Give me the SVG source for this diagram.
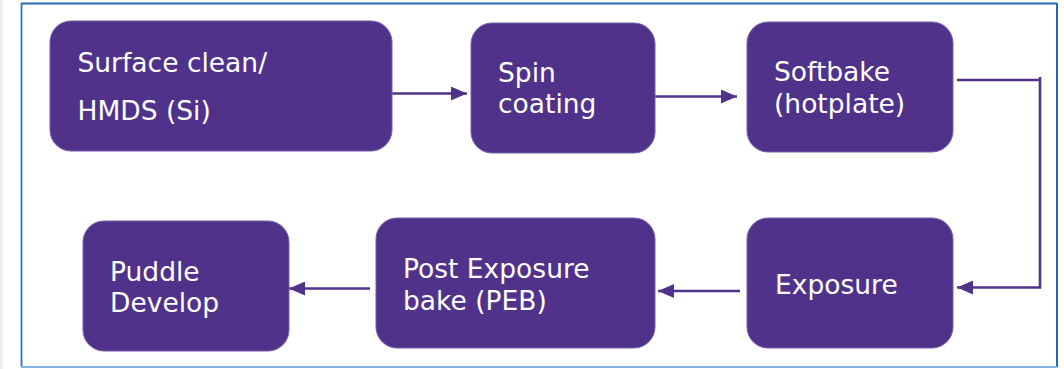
<svg xmlns="http://www.w3.org/2000/svg" width="1064" height="369" viewBox="0 0 1064 369">
  <defs>
    <marker id="arrow" markerWidth="16" markerHeight="14" refX="16" refY="7" orient="auto" markerUnits="userSpaceOnUse">
      <path d="M0,0 L16,7 L0,14 Z" fill="#51328b"/>
    </marker>
    <style>
      .node rect { fill: #51328b; stroke: #7561a8; stroke-width: 1; }
      .node text { fill: #ffffff; font-family: "DejaVu Sans", Verdana, sans-serif; font-size: 26.5px; }
      .conn { fill: none; stroke: #51328b; stroke-width: 2.6; }
    </style>
  </defs>

  <rect x="0" y="0" width="1064" height="369" fill="#ffffff"/>
  <rect x="0" y="0" width="3" height="369" fill="#efefef"/>

  <!-- frame -->
  <g id="frame" fill="none">
    <line x1="21" y1="3.5" x2="1057" y2="3.5" stroke="#1f6bb5" stroke-width="2"/>
    <line x1="21.5" y1="3" x2="21.5" y2="367" stroke="#2a74bd" stroke-width="1.8"/>
    <line x1="1057" y1="3" x2="1057" y2="367" stroke="#1f6bb5" stroke-width="2"/>
    <line x1="21" y1="367" x2="1057" y2="367" stroke="#7fb3e3" stroke-width="2"/>
  </g>

  <!-- connectors -->
  <g id="connectors" class="conn">
    <path d="M392,93.5 L467,93.5" marker-end="url(#arrow)"/>
    <path d="M655,96.5 L737,96.5" marker-end="url(#arrow)"/>
    <path d="M957,80 L1040,80 M1040,77 L1040,287.5 L957,287.5" marker-end="url(#arrow)"/>
    <path d="M740,291 L658,291" marker-end="url(#arrow)"/>
    <path d="M370,288.5 L289,288.5" marker-end="url(#arrow)"/>
  </g>

  <g id="surface-clean" class="node">
    <rect x="50" y="21" width="342" height="130" rx="21"/>
    <text x="77.5" y="72">Surface clean/</text>
    <text x="77.5" y="120">HMDS (Si)</text>
  </g>

  <g id="spin-coating" class="node">
    <rect x="471" y="23" width="184" height="130" rx="21"/>
    <text x="498" y="82">Spin</text>
    <text x="498" y="113">coating</text>
  </g>

  <g id="softbake" class="node">
    <rect x="747" y="22" width="206" height="130" rx="21"/>
    <text x="774" y="81">Softbake</text>
    <text x="774" y="113">(hotplate)</text>
  </g>

  <g id="exposure" class="node">
    <rect x="747" y="218" width="206" height="130" rx="21"/>
    <text x="775" y="294">Exposure</text>
  </g>

  <g id="peb" class="node">
    <rect x="376" y="218" width="279" height="130" rx="21"/>
    <text x="403" y="278">Post Exposure</text>
    <text x="403" y="310">bake (PEB)</text>
  </g>

  <g id="puddle-develop" class="node">
    <rect x="83" y="221" width="206" height="130" rx="21"/>
    <text x="110" y="281">Puddle</text>
    <text x="110" y="312">Develop</text>
  </g>
</svg>
